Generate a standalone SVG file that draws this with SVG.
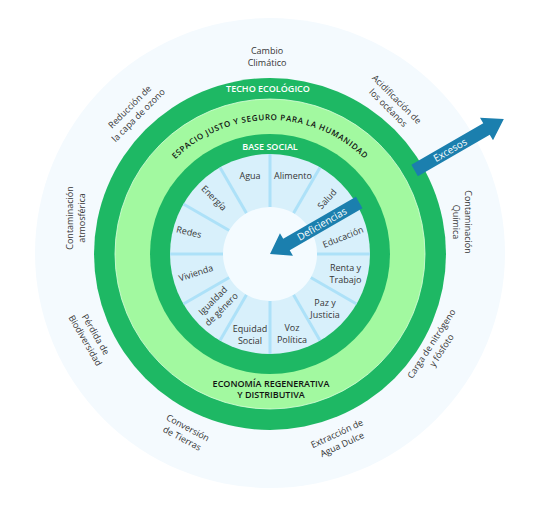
<svg xmlns="http://www.w3.org/2000/svg" width="539" height="522" viewBox="0 0 539 522">
<style>
.t{font-family:"Open Sans","Noto Sans","DejaVu Sans",sans-serif;font-size:9px;fill:#363636;text-anchor:middle}
.w{fill:#ffffff;font-weight:600}
.b{fill:#111111;font-weight:600}
.rad{stroke:#ade1f8;stroke-width:3}
.dg{fill:#1eb864}
.arrow{fill:#1b7fae}
.at{font-family:"Open Sans","Noto Sans","DejaVu Sans",sans-serif;font-size:10px;fill:#ffffff;text-anchor:middle}
</style>
<defs>
<path id="arcT" d="M138.04,230.73 A134,134 0 0 1 401.96,230.73"/>
</defs>
<rect width="539" height="522" fill="#ffffff"/>
<g id="planetary-boundaries">
<circle cx="270" cy="253" r="235" fill="#f4fafe"/>
</g>
<g id="techo-ecologico">
<circle class="dg" cx="270" cy="254" r="176"/>
<text class="t w" x="268" y="92">TECHO ECOLÓGICO</text>
</g>
<g id="espacio-justo">
<circle cx="270" cy="254" r="155" fill="#a2f9a0" stroke="#dcffdc" stroke-width="0.8"/>
<text class="t b" style="font-size:8px;letter-spacing:0.6px"><textPath href="#arcT" startOffset="50%">ESPACIO JUSTO Y SEGURO PARA LA HUMANIDAD</textPath></text>
<text class="t b" x="271" y="386.5">ECONOMÍA REGENERATIVA</text>
<text class="t b" x="271" y="398">Y DISTRIBUTIVA</text>
</g>
<g id="base-social">
<circle class="dg" cx="270" cy="254" r="120"/>
<text class="t w" x="270" y="150">BASE SOCIAL</text>
</g>
<g id="social-foundation">
<circle cx="270" cy="254" r="100" fill="#d8f0fb"/>
<g class="rad">
<line x1="270" y1="207" x2="270" y2="154"/>
<line x1="270" y1="207" x2="270" y2="154" transform="rotate(30 270 254)"/>
<line x1="270" y1="207" x2="270" y2="154" transform="rotate(60 270 254)"/>
<line x1="270" y1="207" x2="270" y2="154" transform="rotate(90 270 254)"/>
<line x1="270" y1="207" x2="270" y2="154" transform="rotate(120 270 254)"/>
<line x1="270" y1="207" x2="270" y2="154" transform="rotate(150 270 254)"/>
<line x1="270" y1="207" x2="270" y2="154" transform="rotate(180 270 254)"/>
<line x1="270" y1="207" x2="270" y2="154" transform="rotate(210 270 254)"/>
<line x1="270" y1="207" x2="270" y2="154" transform="rotate(240 270 254)"/>
<line x1="270" y1="207" x2="270" y2="154" transform="rotate(270 270 254)"/>
<line x1="270" y1="207" x2="270" y2="154" transform="rotate(300 270 254)"/>
<line x1="270" y1="207" x2="270" y2="154" transform="rotate(330 270 254)"/>
</g>
<circle cx="270" cy="254" r="47" fill="#f4fbff"/>
</g>
<g id="sf-agua"><text class="t" x="250" y="179.2">Agua</text></g>
<g id="sf-alimento"><text class="t" x="293" y="179.2">Alimento</text></g>
<g id="sf-salud"><text class="t" transform="translate(327 199) rotate(-48)" y="3.2">Salud</text></g>
<g id="sf-educacion"><text class="t" transform="translate(343 237) rotate(-22)" y="3.2">Educación</text></g>
<g id="sf-renta"><text class="t" transform="translate(345.5 274)"><tspan x="0" y="-2.8">Renta y</tspan><tspan x="0" y="9.2">Trabajo</tspan></text></g>
<g id="sf-paz"><text class="t" transform="translate(325 308.5)"><tspan x="0" y="-2.8">Paz y</tspan><tspan x="0" y="9.2">Justicia</tspan></text></g>
<g id="sf-voz"><text class="t" transform="translate(292 333.5)"><tspan x="0" y="-2.8">Voz</tspan><tspan x="0" y="9.2">Política</tspan></text></g>
<g id="sf-equidad"><text class="t" transform="translate(250 334.5)"><tspan x="0" y="-2.8">Equidad</tspan><tspan x="0" y="9.2">Social</tspan></text></g>
<g id="sf-igualdad"><text class="t" transform="translate(217 305) rotate(-45)"><tspan x="0" y="-2.8">Igualdad</tspan><tspan x="0" y="9.2">de género</tspan></text></g>
<g id="sf-vivienda"><text class="t" transform="translate(196 273) rotate(-18)" y="3.2">Vivienda</text></g>
<g id="sf-redes"><text class="t" transform="translate(189 232) rotate(13)" y="3.2">Redes</text></g>
<g id="sf-energia"><text class="t" transform="translate(214 198) rotate(45)" y="3.2">Energía</text></g>
<g id="pb-cambio"><text class="t" transform="translate(267 57)"><tspan x="0" y="-2.8">Cambio</tspan><tspan x="0" y="9.2">Climático</tspan></text></g>
<g id="pb-acidificacion"><text class="t" transform="translate(392.5 103.5) rotate(45)"><tspan x="0" y="-2.8">Acidificación de</tspan><tspan x="0" y="9.2">los océanos</tspan></text></g>
<g id="pb-quimica"><text class="t" transform="translate(462 222) rotate(90)"><tspan x="0" y="-2.8">Contaminación</tspan><tspan x="0" y="9.2">Química</tspan></text></g>
<g id="pb-nitrogeno"><text class="t" transform="translate(436.5 347) rotate(-57)"><tspan x="0" y="-2.8">Carga de nitrógeno</tspan><tspan x="0" y="9.2">y fósfoto</tspan></text></g>
<g id="pb-agua"><text class="t" transform="translate(339.5 439) rotate(-25)"><tspan x="0" y="-2.8">Extracción de</tspan><tspan x="0" y="9.2">Agua Dulce</tspan></text></g>
<g id="pb-tierras"><text class="t" transform="translate(185 433) rotate(28)"><tspan x="0" y="-2.8">Conversión</tspan><tspan x="0" y="9.2">de Tierras</tspan></text></g>
<g id="pb-biodiversidad"><text class="t" transform="translate(90.5 337.5) rotate(60)"><tspan x="0" y="-2.8">Pérdida de</tspan><tspan x="0" y="9.2">Biodiversidad</tspan></text></g>
<g id="pb-atmosferica"><text class="t" transform="translate(76 218) rotate(-90)"><tspan x="0" y="-2.8">Contaminación</tspan><tspan x="0" y="9.2">atmosférica</tspan></text></g>
<g id="pb-ozono"><text class="t" transform="translate(134 111) rotate(-45)"><tspan x="0" y="-2.8">Reducción de</tspan><tspan x="0" y="9.2">la capa de ozono</tspan></text></g>
<g id="connectors">
<g id="arrow-excesos" transform="translate(270 254) rotate(-30)">
<polygon class="arrow" points="167,-6.5 250,-6.5 250,-13 270,0 250,13 250,6.5 167,6.5"/>
<text class="at" x="208" y="3.5">Excesos</text>
</g>
<g id="arrow-deficiencias" transform="translate(270 254) rotate(-30)">
<polygon class="arrow" points="103,-6.5 19,-6.5 19,-13 0,0 19,13 19,6.5 103,6.5"/>
<text class="at" x="60" y="3.5">Deficiencias</text>
</g>
</g>
</svg>
